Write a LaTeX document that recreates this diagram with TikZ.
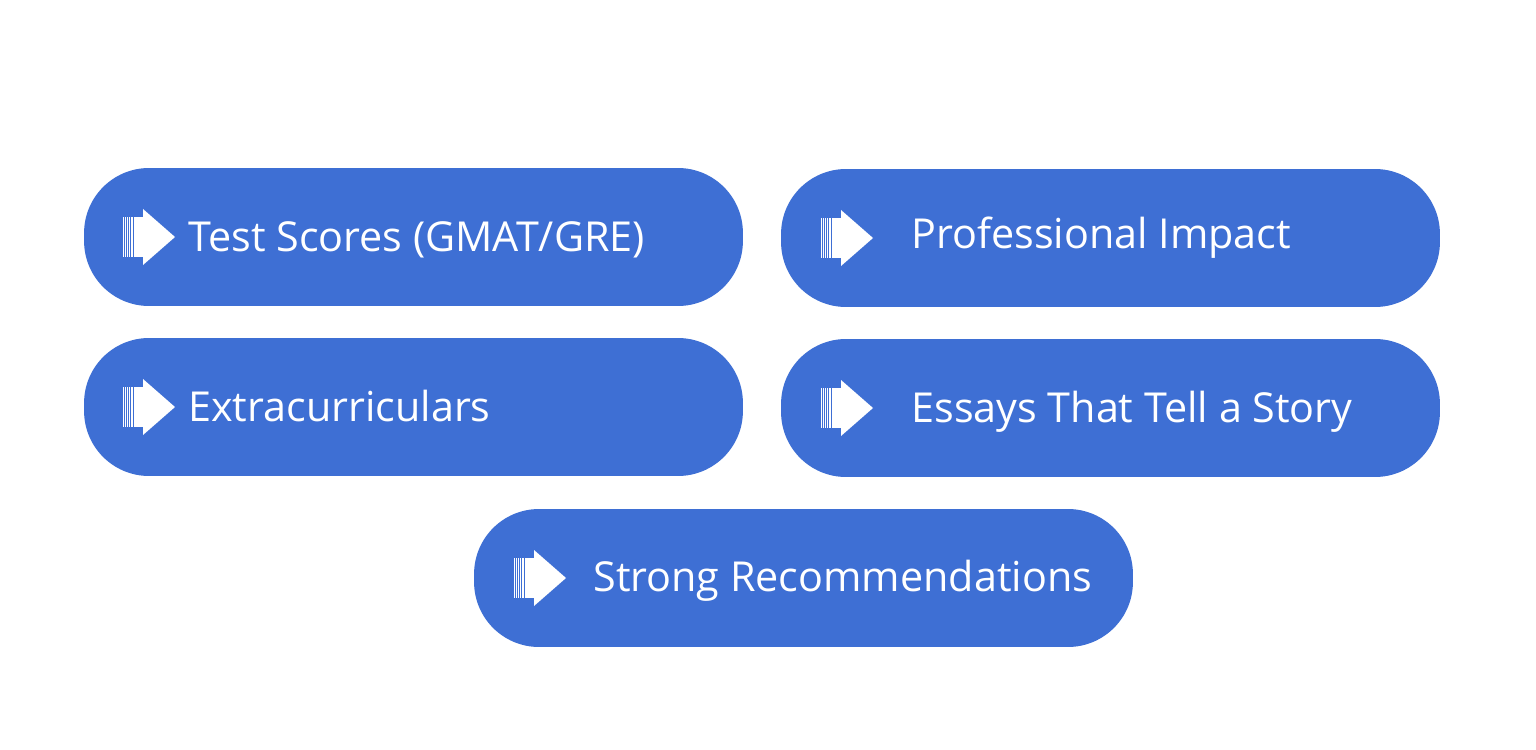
\documentclass[tikz,border=0pt]{standalone}
\usepackage{fontspec}
\setmainfont{Open Sans}
\usetikzlibrary{positioning}

\definecolor{pillblue}{HTML}{3E6FD4}

\tikzset{
    pill/.style={rectangle,fill=pillblue,minimum width=13.18cm,minimum height=2.76cm,rounded corners=1.3cm,inner sep=0pt},
    pilltext/.style={anchor=base west,text=white,font=\fontsize{23.5}{28}\selectfont,inner sep=0pt}
}

% striped arrow icon, #1 = left end of the stripes
\newcommand{\arrowicon}[1]{%
    \begin{scope}[shift={(#1)}]
        \foreach \s in {0,2.5,4.5,6.5,8,9.5,11,12.5,13.5,14.5,15.5,16.5,17.5,18.5,19.5} {
            \draw[white,line width=0.5pt] (\s,-20) -- (\s,20);
        }
        \fill[white] (19,-20) rectangle (20.5,20);
        \fill[white] (20,-28) -- (52,0) -- (20,28) -- cycle;
    \end{scope}}

\begin{document}
\begin{tikzpicture}[x=0.02cm,y=-0.02cm]
        \useasboundingbox (0,0) rectangle (1536,750);
        \node[pill] (scores) at (413.5,237) {};
        \node[pill] (impact) at (1110.5,238) {};
        \node[pill] (extra) at (413.5,407) {};
        \node[pill] (essays) at (1110.5,408) {};
        \node[pill] (recs) at (803.5,578) {};
        \arrowicon{123,237}
        \arrowicon{821,238}
        \arrowicon{123,407}
        \arrowicon{821,408}
        \arrowicon{514,578}
        \node[pilltext] (scorestext) at (188,252) {Test Scores (GMAT/GRE)};
        \node[pilltext] (impacttext) at (911,249) {Professional Impact};
        \node[pilltext] (extratext) at (188,421) {Extracurriculars};
        \node[pilltext] (essaystext) at (911,422) {Essays That Tell a Story};
        \node[pilltext] (recstext) at (593,591) {Strong Recommendations};
\end{tikzpicture}
\end{document}
